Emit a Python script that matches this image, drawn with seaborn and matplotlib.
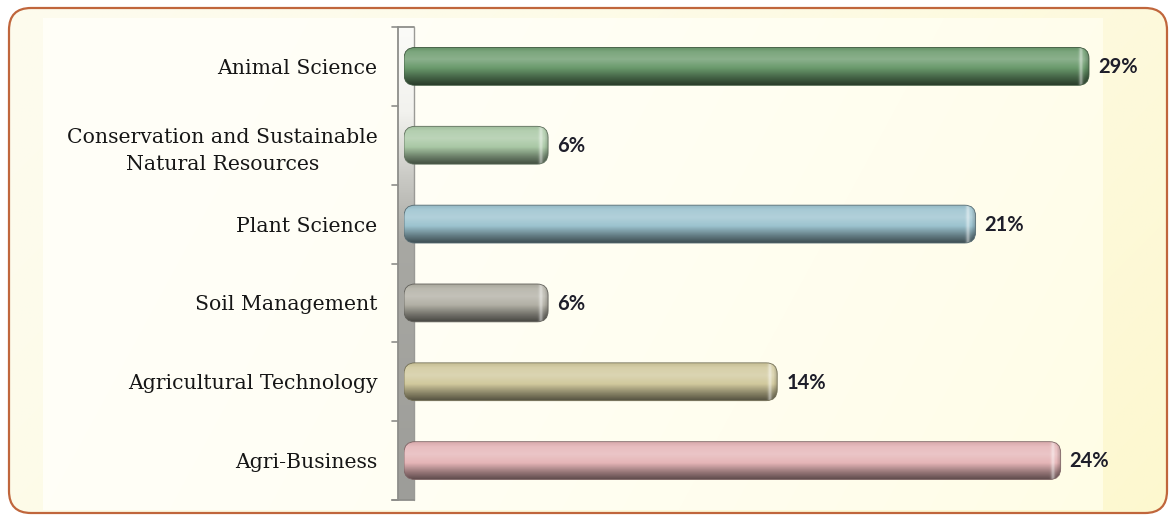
import numpy as np
import matplotlib
matplotlib.use("Agg")
import matplotlib.pyplot as plt
import seaborn as sns
import pandas as pd
from matplotlib.patches import FancyBboxPatch
from matplotlib.colors import to_rgb

# ---------------- data ----------------
categories = [
    "Animal Science",
    "Conservation and Sustainable\nNatural Resources",
    "Plant Science",
    "Soil Management",
    "Agricultural Technology",
    "Agri-Business",
]
bar_values = [29.0, 6.1, 24.2, 6.1, 15.8, 27.8]
value_labels = ["29%", "6%", "21%", "6%", "14%", "24%"]
bar_colors = ["#6a9a6c", "#a9c8a5", "#9cc3cf", "#b2b0a5", "#d1c99d", "#e5b5b7"]

# ---------------- layout ----------------
W, H = 1176, 519
PX_PER_UNIT = 23.62
AX_LEFT, AX_RIGHT, AX_TOP, AX_BOT = 404, 1150, 27, 500

sns.set_theme(style="white")
plt.rcParams["font.family"] = ["DejaVu Sans"]

fig = plt.figure(figsize=(W / 100, H / 100), dpi=100)
fig.patch.set_facecolor("white")


def fx(px):
    return px / W


def fy(py):
    return 1 - py / H


# ---------------- background ----------------
bg = fig.add_axes([0, 0, 1, 1], zorder=-10)
bg.set_xlim(0, W)
bg.set_ylim(H, 0)
bg.axis("off")

xx = np.linspace(0, 1, 400)[None, :]
yy = np.linspace(0, 1, 200)[:, None]
t = np.clip(0.7 * xx + 0.3 * yy, 0, 1) ** 1.5
c0 = np.array(to_rgb("#fdfcee"))
c1 = np.array(to_rgb("#fdf8cf"))
img = c0 + (c1 - c0) * t[..., None]
im = bg.imshow(img, extent=[8, W - 8, H - 6, 8], aspect="auto", zorder=0,
               interpolation="bilinear")
clip = FancyBboxPatch((9, 8), W - 18, H - 14, boxstyle="round,pad=0,rounding_size=22",
                      transform=bg.transData, fc="none", ec="none")
bg.add_patch(clip)
im.set_clip_path(clip)

# inner plot area (lighter)
t2 = np.clip(0.8 * xx + 0.2 * yy, 0, 1) ** 1.8
d0 = np.array(to_rgb("#fffff8"))
d1 = np.array(to_rgb("#fffde6"))
img2 = d0 + (d1 - d0) * t2[..., None]
bg.imshow(img2, extent=[43, 1103, 510, 18], aspect="auto", zorder=1,
          interpolation="bilinear")
bg.set_xlim(0, W)
bg.set_ylim(H, 0)

frame = FancyBboxPatch((9, 8), W - 18, H - 14, boxstyle="round,pad=0,rounding_size=22",
                       fc="none", ec="#c0663c", lw=1.6, zorder=5)
bg.add_patch(frame)

# ---------------- wall (3D axis) ----------------
wall = fig.add_axes([fx(397), fy(AX_BOT), 18 / W, (AX_BOT - AX_TOP) / H], zorder=-5)
wall.set_xlim(0, 18)
wall.set_ylim(AX_BOT - AX_TOP, 0)
wall.axis("off")
stops_t = [0.0, 0.18, 0.32, 0.45, 1.0]
stops_c = [to_rgb(c) for c in ["#fbfbf8", "#f2f2ee", "#c9c9c4", "#a8a8a3", "#9d9d99"]]
tv = np.linspace(0, 1, 300)
wcol = np.stack([np.interp(tv, stops_t, [c[k] for c in stops_c]) for k in range(3)], axis=1)
wimg = np.repeat(wcol[:, None, :], 4, axis=1)
wall.imshow(wimg, extent=[1, 17, AX_BOT - AX_TOP, 0], aspect="auto", interpolation="bilinear")
wall.set_xlim(0, 18)
wall.set_ylim(AX_BOT - AX_TOP, 0)
span = AX_BOT - AX_TOP
wall.plot([1, 1], [0, span], color="#8e8e8a", lw=1.3, clip_on=False)
wall.plot([1, 17], [0, 0], color="#8e8e8a", lw=1.3, clip_on=False)
wall.plot([17, 17], [0, span], color="#9a9a96", lw=1.0, clip_on=False)
wall.plot([-5, 17], [span, span], color="#8e8e8a", lw=1.3, clip_on=False)
for k in range(7):
    yk = span * k / 6
    wall.plot([-5, 1], [yk, yk], color="#8e8e8a", lw=1.2, clip_on=False)

# ---------------- main axes ----------------
ax = fig.add_axes([fx(AX_LEFT), fy(AX_BOT), (AX_RIGHT - AX_LEFT) / W, (AX_BOT - AX_TOP) / H],
                  zorder=5)
ax.set_facecolor("none")
df = pd.DataFrame({"category": categories, "value": bar_values})
sns.barplot(data=df, y="category", x="value", hue="category", palette=bar_colors,
            orient="h", width=0.48, legend=False, ax=ax)

xmax = (AX_RIGHT - AX_LEFT) / PX_PER_UNIT
ax.set_xlim(0, xmax)
ax.set_ylim(5.5, -0.5)
py_per_unit = (AX_BOT - AX_TOP) / 6.0
rpx = 11.0
rx = rpx / PX_PER_UNIT
ry = rpx / py_per_unit


def shade(base, f):
    b = np.array(to_rgb(base))
    if f >= 0:
        return b + (1 - b) * f
    return b * (1 + f)


for patch in list(ax.patches):
    x0, y0 = patch.get_x(), patch.get_y()
    w, h = patch.get_width(), patch.get_height()
    idx = int(round(y0 + h / 2))
    base = bar_colors[idx]
    patch.set_visible(False)
    ny = 60
    nx = max(int(w * PX_PER_UNIT), 4)
    vt = [0.0, 0.12, 0.32, 0.55, 0.8, 1.0]
    vf = [-0.05, 0.12, 0.22, 0.0, -0.35, -0.6]
    cols = np.array([shade(base, f) for f in vf])
    tv = np.linspace(0, 1, ny)
    vcol = np.stack([np.interp(tv, vt, cols[:, k]) for k in range(3)], axis=1)
    bimg = np.repeat(vcol[:, None, :], nx, axis=1)
    px = np.arange(nx)
    hl = 0.45 * np.exp(-((px - (nx - 8.5)) / 2.0) ** 2)
    dk = np.clip((px - (nx - 5)) / 5.0, 0, 1) * 0.25
    bimg = bimg + (1 - bimg) * hl[None, :, None]
    bimg = bimg * (1 - dk[None, :, None])
    bimg = np.clip(bimg, 0, 1)
    cap = FancyBboxPatch((x0, y0), w, h, boxstyle=f"round,pad=0,rounding_size={rx}",
                         mutation_aspect=ry / rx, transform=ax.transData,
                         fc="none", ec=shade(base, -0.45), lw=0.6, zorder=4)
    ax.add_patch(cap)
    bi = ax.imshow(bimg, extent=[x0, x0 + w, y0 + h, y0], aspect="auto",
                   interpolation="bilinear", zorder=3)
    bi.set_clip_path(cap)
    ax.text(x0 + w + 9 / PX_PER_UNIT, idx + 0.01, value_labels[idx],
            fontfamily="Lato", fontweight="bold", fontsize=14.5, color="#1e1e2a",
            ha="left", va="center")

ax.set_xlim(0, xmax)
ax.set_ylim(5.5, -0.5)
ax.set_yticks(range(6))
ax.set_yticklabels(categories, fontfamily="DejaVu Serif", fontsize=14.7, color="#161616")
for lbl in ax.get_yticklabels():
    lbl.set_multialignment("center")
    lbl.set_linespacing(1.5)
ax.tick_params(axis="y", length=0, pad=19)
ax.set_xticks([])
ax.set_xlabel("")
ax.set_ylabel("")
for s in ax.spines.values():
    s.set_visible(False)

fig.savefig("out.png", dpi=100)
